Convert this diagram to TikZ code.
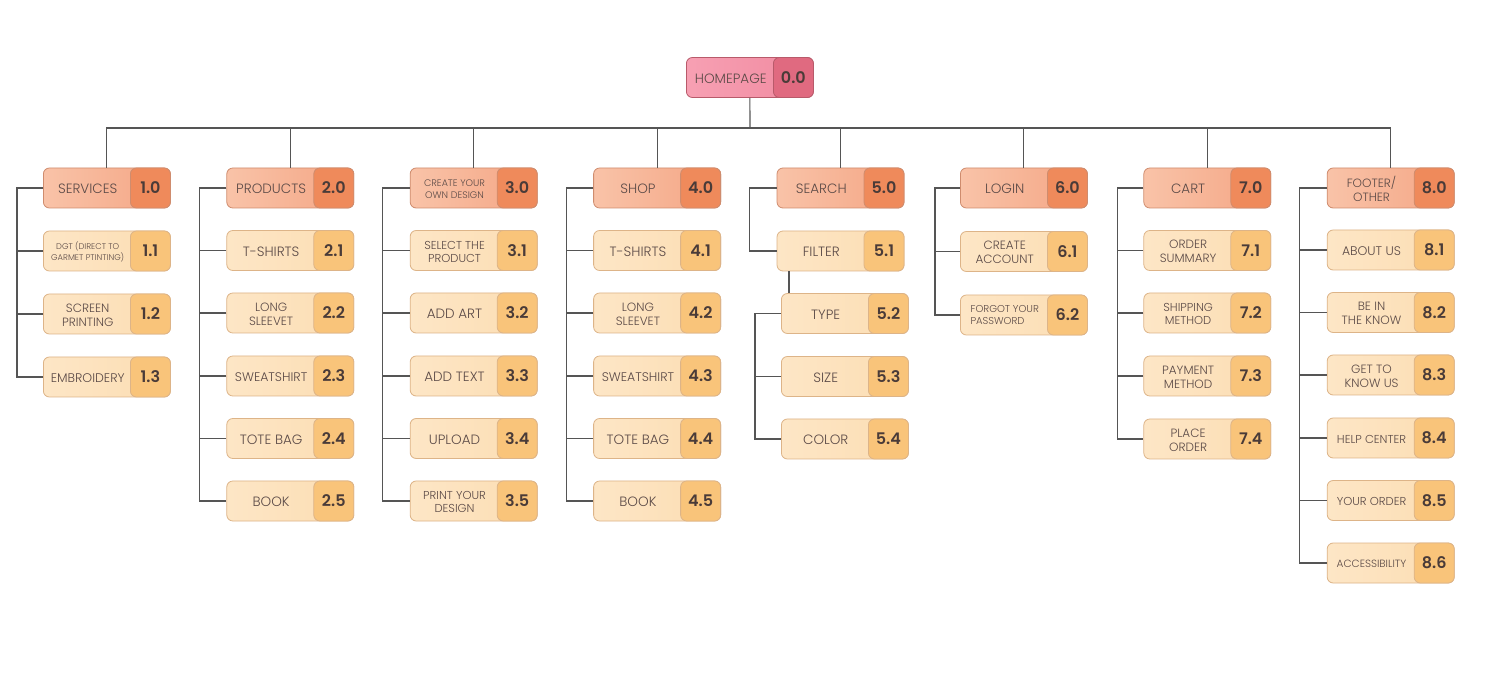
\documentclass[tikz,border=0pt]{standalone}
\usepackage{fontspec}
\setmainfont{Poppins Light}[BoldFont=Poppins SemiBold]
\usetikzlibrary{calc}
\definecolor{hpL}{HTML}{F7A0B3}
\definecolor{hpR}{HTML}{F08AA0}
\definecolor{hpN}{HTML}{E06A80}
\definecolor{hpB}{HTML}{B85A6A}
\definecolor{hdL}{HTML}{F9C3A8}
\definecolor{hdR}{HTML}{F4A584}
\definecolor{hdN}{HTML}{EF8A5B}
\definecolor{hdB}{HTML}{CF8C6E}
\definecolor{chL}{HTML}{FDE6C6}
\definecolor{chR}{HTML}{FCDDB2}
\definecolor{chN}{HTML}{F9C47A}
\definecolor{chB}{HTML}{DDB488}
\definecolor{txt}{HTML}{5B4A47}
\definecolor{num}{HTML}{4A3B38}
\definecolor{wire}{HTML}{555555}
\newcommand\fA{\fontsize{13.5}{15}\selectfont}
\newcommand\fD{\fontsize{12.5}{13}\selectfont}
\newcommand\fB{\fontsize{12}{14}\selectfont}
\newcommand\fS{\fontsize{11.5}{13}\selectfont}
\newcommand\fC{\fontsize{9.5}{11.5}\selectfont}
\newcommand\mkbox[7]{%
  \node[#6box, anchor=west] (#1) at (#2,#3) {};
  \node[#6num, anchor=east] (#1n) at (#1.east) {#5};
  \node[lbl, font=#7] (#1t) at ($(#1.west)!0.35!(#1.east)+(0,1)$) {#4};
}
\tikzset{
  base/.style={rectangle, rounded corners=6pt, minimum width=127pt, minimum height=40pt, line width=0.8pt, inner sep=0pt},
  numbase/.style={base, minimum width=40pt, text=num, font=\fontsize{16}{16}\selectfont\bfseries},
  hpbox/.style={base, draw=hpB, left color=hpL, right color=hpR},
  hpnum/.style={numbase, fill=hpN, draw=hpB},
  hdbox/.style={base, draw=hdB, left color=hdL, right color=hdR},
  hdnum/.style={numbase, fill=hdN, draw=hdB},
  chbox/.style={base, draw=chB, left color=chL, right color=chR},
  chnum/.style={numbase, fill=chN, draw=chB},
  lbl/.style={align=center, text=txt, inner sep=0pt},
  wire/.style={draw=wire, line width=1.1pt},
}
\begin{document}
\begin{tikzpicture}[x=1pt,y=-1pt]
\useasboundingbox[fill=white] (0,0) rectangle (1500,700);
% homepage
\mkbox{hp}{686}{77.5}{HOMEPAGE}{0.0}{hp}{\fA}
% column 1
\mkbox{s0}{43}{188}{SERVICES}{1.0}{hd}{\fA}
\mkbox{s1}{43}{251}{DGT (DIRECT TO\\GARMET PTINTING)}{1.1}{ch}{\fontsize{8.3}{10.5}\selectfont}
\mkbox{s2}{43}{314}{SCREEN\\PRINTING}{1.2}{ch}{\fB}
\mkbox{s3}{43}{377}{EMBROIDERY}{1.3}{ch}{\fD}
% column 2
\mkbox{p0}{226.4}{188}{PRODUCTS}{2.0}{hd}{\fA}
\mkbox{p1}{226.4}{250.5}{T-SHIRTS}{2.1}{ch}{\fA}
\mkbox{p2}{226.4}{313}{LONG\\SLEEVET}{2.2}{ch}{\fB}
\mkbox{p3}{226.4}{376}{SWEATSHIRT}{2.3}{ch}{\fD}
\mkbox{p4}{226.4}{438.5}{TOTE BAG}{2.4}{ch}{\fA}
\mkbox{p5}{226.4}{501}{BOOK}{2.5}{ch}{\fA}
% column 3
\mkbox{c0}{409.8}{188}{CREATE YOUR\\OWN DESIGN}{3.0}{hd}{\fC}
\mkbox{c1}{409.8}{250.5}{SELECT THE\\PRODUCT}{3.1}{ch}{\fS}
\mkbox{c2}{409.8}{313}{ADD ART}{3.2}{ch}{\fA}
\mkbox{c3}{409.8}{376}{ADD TEXT}{3.3}{ch}{\fA}
\mkbox{c4}{409.8}{438.5}{UPLOAD}{3.4}{ch}{\fA}
\mkbox{c5}{409.8}{501}{PRINT YOUR\\DESIGN}{3.5}{ch}{\fS}
% column 4
\mkbox{h0}{593.2}{188}{SHOP}{4.0}{hd}{\fA}
\mkbox{h1}{593.2}{250.5}{T-SHIRTS}{4.1}{ch}{\fA}
\mkbox{h2}{593.2}{313}{LONG\\SLEEVET}{4.2}{ch}{\fB}
\mkbox{h3}{593.2}{376}{SWEATSHIRT}{4.3}{ch}{\fD}
\mkbox{h4}{593.2}{438.5}{TOTE BAG}{4.4}{ch}{\fA}
\mkbox{h5}{593.2}{501}{BOOK}{4.5}{ch}{\fA}
% column 5
\mkbox{r0}{776.6}{188}{SEARCH}{5.0}{hd}{\fA}
\mkbox{r1}{776.6}{251}{FILTER}{5.1}{ch}{\fA}
\mkbox{r2}{781}{313.5}{TYPE}{5.2}{ch}{\fA}
\mkbox{r3}{781}{376.5}{SIZE}{5.3}{ch}{\fA}
\mkbox{r4}{781}{439}{COLOR}{5.4}{ch}{\fA}
% column 6
\mkbox{l0}{960}{188}{LOGIN}{6.0}{hd}{\fA}
\mkbox{l1}{960}{251.5}{CREATE\\ACCOUNT}{6.1}{ch}{\fB}
\mkbox{l2}{960}{315}{\begin{tabular}{@{}l@{}}FORGOT YOUR\\PASSWORD\end{tabular}}{6.2}{ch}{\fontsize{10}{11.5}\selectfont}
% column 7
\mkbox{k0}{1143.4}{188}{CART}{7.0}{hd}{\fA}
\mkbox{k1}{1143.4}{250.5}{ORDER\\SUMMARY}{7.1}{ch}{\fB}
\mkbox{k2}{1143.4}{313}{SHIPPING\\METHOD}{7.2}{ch}{\fS}
\mkbox{k3}{1143.4}{376}{PAYMENT\\METHOD}{7.3}{ch}{\fB}
\mkbox{k4}{1143.4}{439}{PLACE\\ORDER}{7.4}{ch}{\fB}
% column 8
\mkbox{f0}{1326.8}{188}{FOOTER/\\OTHER}{8.0}{hd}{\fB}
\mkbox{f1}{1326.8}{250}{ABOUT US}{8.1}{ch}{\fD}
\mkbox{f2}{1326.8}{312.5}{BE IN\\THE KNOW}{8.2}{ch}{\fB}
\mkbox{f3}{1326.8}{375}{GET TO\\KNOW US}{8.3}{ch}{\fB}
\mkbox{f4}{1326.8}{438}{HELP CENTER}{8.4}{ch}{\fS}
\mkbox{f5}{1326.8}{500.5}{YOUR ORDER}{8.5}{ch}{\fS}
\mkbox{f6}{1326.8}{563}{ACCESSIBILITY}{8.6}{ch}{\fontsize{10.5}{12}\selectfont}
% top connectors
\coordinate (bus) at (750,128);
\draw[wire] (hp.south) -- (bus);
\draw[wire] (s0.north) |- (bus) -| (f0.north);
\foreach \n in {p0,c0,h0,r0,l0,k0}{
  \draw[wire] (\n.north) -- (\n.north |- bus);
}
% column trunks
\draw[wire] (s0.west) -- ++(-26,0) |- (s3.west);
\foreach \n in {s1,s2}{\draw[wire] (\n.west) -- ++(-26,0);}
\draw[wire] (p0.west) -- ++(-27,0) |- (p5.west);
\foreach \n in {p1,p2,p3,p4}{\draw[wire] (\n.west) -- ++(-27,0);}
\draw[wire] (c0.west) -- ++(-27,0) |- (c5.west);
\foreach \n in {c1,c2,c3,c4}{\draw[wire] (\n.west) -- ++(-27,0);}
\draw[wire] (h0.west) -- ++(-27,0) |- (h5.west);
\foreach \n in {h1,h2,h3,h4}{\draw[wire] (\n.west) -- ++(-27,0);}
\draw[wire] (r0.west) -- ++(-27,0) |- (r1.west);
\draw[wire] (r1.south -| 789,0) -- (r2.north -| 789,0);
\draw[wire] (r2.west) -- ++(-26,0) |- (r4.west);
\draw[wire] (r3.west) -- ++(-26,0);
\draw[wire] (l0.west) -- ++(-25,0) |- (l2.west);
\draw[wire] (l1.west) -- ++(-25,0);
\draw[wire] (k0.west) -- ++(-26,0) |- (k4.west);
\foreach \n in {k1,k2,k3}{\draw[wire] (\n.west) -- ++(-26,0);}
\draw[wire] (f0.west) -- ++(-27,0) |- (f6.west);
\foreach \n in {f1,f2,f3,f4,f5}{\draw[wire] (\n.west) -- ++(-27,0);}
\end{tikzpicture}
\end{document}
